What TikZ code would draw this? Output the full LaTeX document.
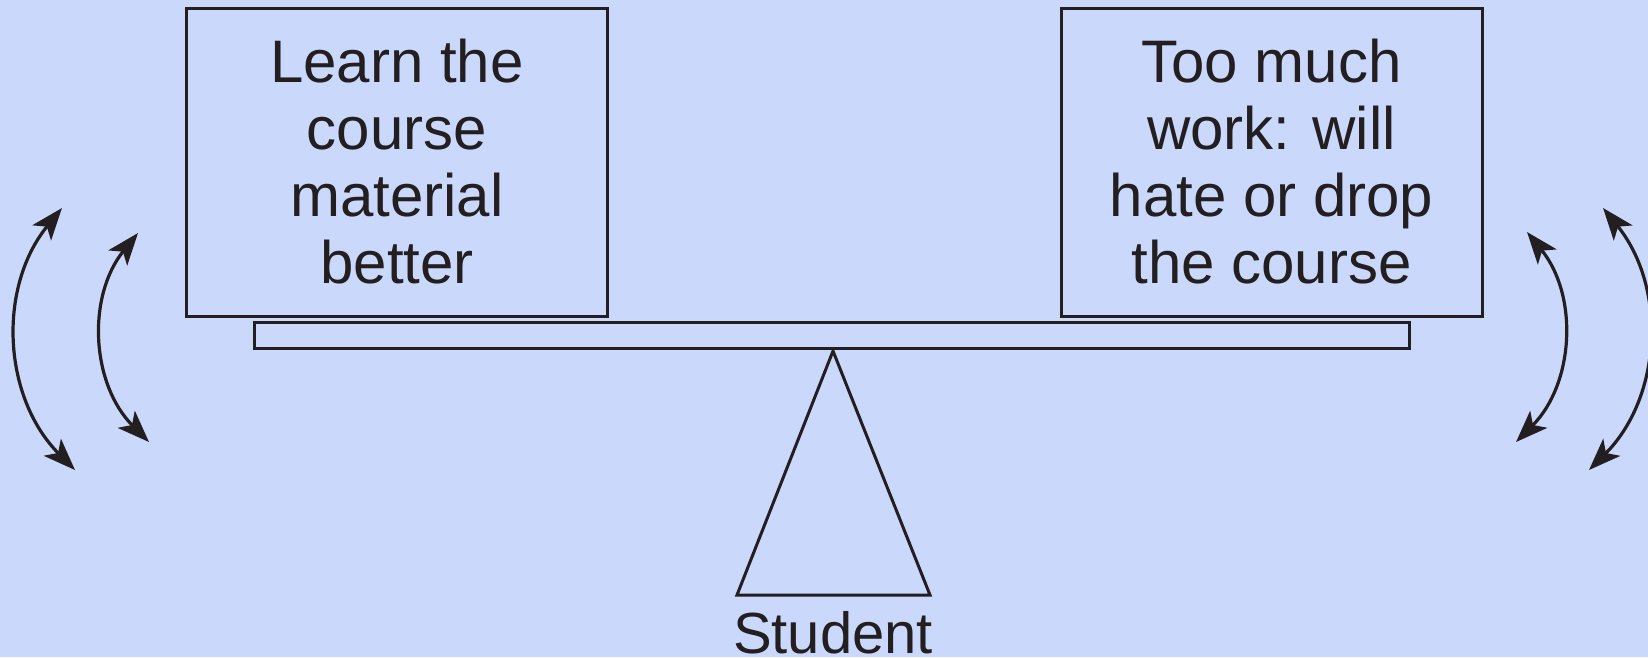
\documentclass[tikz,border=0pt]{standalone}
\usepackage{fontspec}
\setmainfont{Liberation Sans}
\usetikzlibrary{arrows.meta}
\definecolor{bg}{RGB}{202,216,252}
\definecolor{ink}{RGB}{35,31,32}
\begin{document}
\begin{tikzpicture}[x=1pt,y=-1pt,
  box/.style={draw=ink,line width=3pt,minimum width=421pt,minimum height=308pt,
    align=center,text=ink,inner sep=0pt,font=\fontsize{60}{67}\selectfont},
  plankbox/.style={draw=ink,line width=3pt,minimum width=1155pt,minimum height=26pt,inner sep=0pt},
  swing/.style={draw=ink,line width=3.2pt,{Stealth[length=32pt,width=24pt,inset=8pt]}-{Stealth[length=32pt,width=24pt,inset=8pt]}}
]
\fill[bg] (0,0) rectangle (1648,657);
\useasboundingbox (0,0) rectangle (1648,657);

\node[box] (left) at (397,162) {Learn the\\course\\material\\better};
\node[box] (right) at (1271.5,162) {Too much\\work: will\\hate or drop\\the course};
\node[plankbox] (plank) at (831.5,335) {};

\coordinate (apex) at (833,351);
\coordinate (bl) at (737,595);
\coordinate (br) at (930,595);
\draw[ink,line width=3pt,line join=miter] (apex) -- (bl) -- (br) -- cycle;
\node[anchor=base,text=ink,inner sep=0pt,font=\fontsize{58}{60}\selectfont] (student) at (833,653) {Student};

\coordinate (lo1) at (62,208);
\coordinate (lo2) at (75,470);
\coordinate (li1) at (138,233);
\coordinate (li2) at (149,442);
\coordinate (ri1) at (1527,232);
\coordinate (ri2) at (1516,442);
\coordinate (ro1) at (1603,208);
\coordinate (ro2) at (1589,470);

\draw[swing] (lo1) to[bend right=42] (lo2);
\draw[swing] (li1) to[bend right=42] (li2);
\draw[swing] (ri1) to[bend left=42] (ri2);
\draw[swing] (ro1) to[bend left=42] (ro2);
\end{tikzpicture}
\end{document}
